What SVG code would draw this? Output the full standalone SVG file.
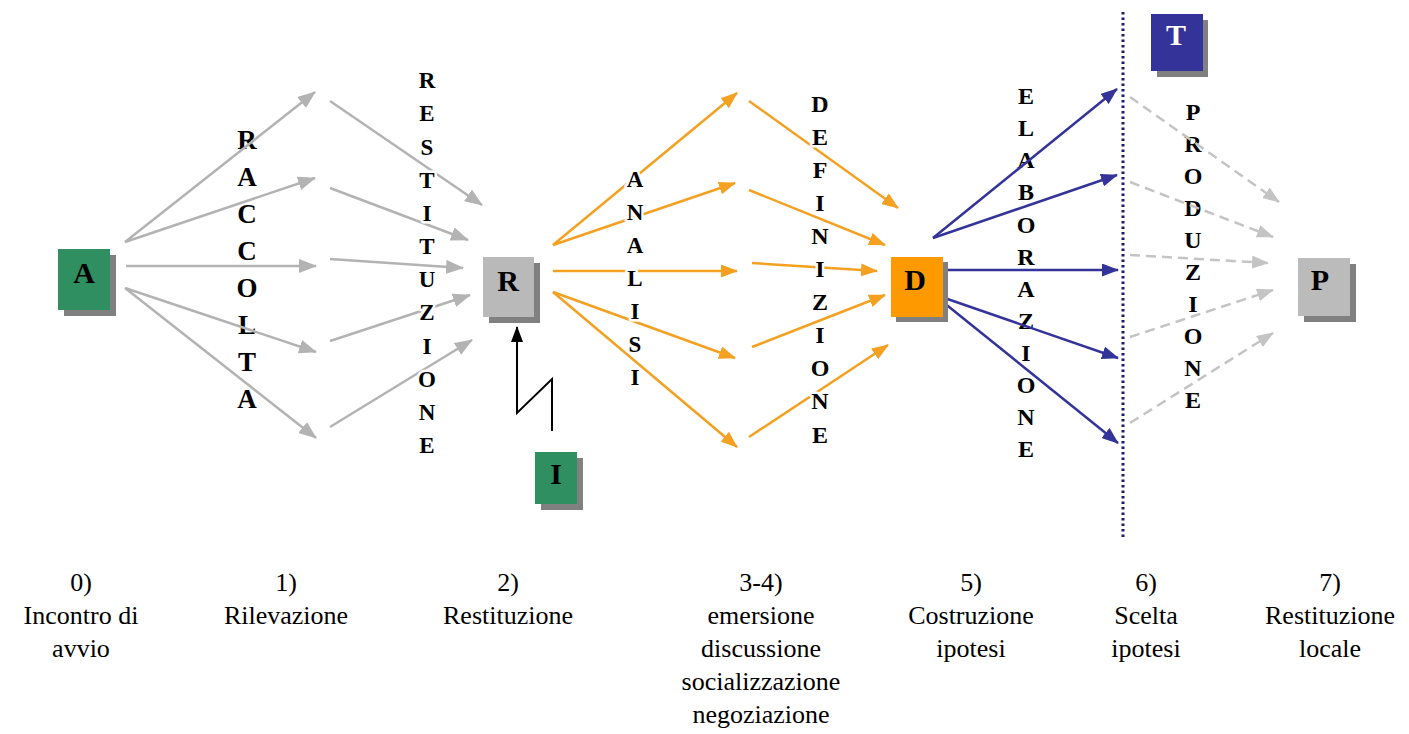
<svg xmlns="http://www.w3.org/2000/svg" width="1409" height="734" viewBox="0 0 1409 734">
<style>
.bg{fill:#ffffff}
.sh{fill:#808080}
.nl{font-family:"Liberation Serif",serif;font-weight:bold;font-size:30px;text-anchor:middle;fill:#000}
.vt{font-family:"Liberation Serif",serif;font-weight:bold;font-size:24px;text-anchor:middle;fill:#000}
.halo{stroke:#fff;stroke-width:5px;paint-order:stroke;stroke-linejoin:round}
.lb text{font-family:"Liberation Serif","DejaVu Serif",serif;font-size:26px;text-anchor:middle;fill:#000}
.cg{stroke:#b3b3b3;stroke-width:2.5;fill:none}
.co{stroke:#f4a020;stroke-width:2.5;fill:none}
.cb{stroke:#333399;stroke-width:2.5;fill:none}
.cd{stroke:#c4c4c4;stroke-width:2.5;fill:none;stroke-dasharray:10 6}
.ck{stroke:#000;stroke-width:2;fill:none}
</style>
<defs>
<marker id="mg" markerUnits="userSpaceOnUse" markerWidth="18" markerHeight="14" refX="17" refY="7" orient="auto"><path d="M0,0 L18,7 L0,14 z" fill="#b3b3b3"/></marker>
<marker id="mo" markerUnits="userSpaceOnUse" markerWidth="17" markerHeight="13" refX="16" refY="6.5" orient="auto"><path d="M0,0 L17,6.5 L0,13 z" fill="#f4a020"/></marker>
<marker id="mb" markerUnits="userSpaceOnUse" markerWidth="17" markerHeight="13" refX="16" refY="6.5" orient="auto"><path d="M0,0 L17,6.5 L0,13 z" fill="#333399"/></marker>
<marker id="md" markerUnits="userSpaceOnUse" markerWidth="17" markerHeight="13" refX="16" refY="6.5" orient="auto"><path d="M0,0 L17,6.5 L0,13 z" fill="#c4c4c4"/></marker>
<marker id="mk" markerUnits="userSpaceOnUse" markerWidth="16" markerHeight="12" refX="15" refY="6" orient="auto"><path d="M0,0 L16,6 L0,12 z" fill="#000"/></marker>
</defs>
<rect class="bg" x="0" y="0" width="1409" height="734"/>

<g id="label-raccolta" class="vt" style="font-size:27px">
<text x="247" y="149">R</text><text x="247" y="186">A</text><text x="247" y="223">C</text><text x="247" y="260">C</text><text x="247" y="297">O</text><text x="247" y="334">L</text><text x="247" y="371">T</text><text x="247" y="408">A</text>
</g>
<g id="label-elaborazione" class="vt">
<text x="1026" y="104">E</text><text x="1026" y="136">L</text><text x="1026" y="168">A</text><text x="1026" y="200">B</text><text x="1026" y="233">O</text><text x="1026" y="265">R</text><text x="1026" y="297">A</text><text x="1026" y="329">Z</text><text x="1026" y="361">I</text><text x="1026" y="393">O</text><text x="1026" y="425">N</text><text x="1026" y="457">E</text>
</g>
<g id="label-produzione" class="vt">
<text x="1193" y="120">P</text><text x="1193" y="152">R</text><text x="1193" y="184">O</text><text x="1193" y="216">D</text><text x="1193" y="248">U</text><text x="1193" y="280">Z</text><text x="1193" y="312">I</text><text x="1193" y="344">O</text><text x="1193" y="376">N</text><text x="1193" y="408">E</text>
</g>

<line id="divider" x1="1123" y1="12" x2="1123" y2="540" stroke="#1a1a6e" stroke-width="3" stroke-dasharray="2.5 3"/>

<g id="connectors">
<path class="cg" marker-end="url(#mg)" d="M125,242 L315,92"/>
<path class="cg" marker-end="url(#mg)" d="M125,242 L315,178"/>
<path class="cg" marker-end="url(#mg)" d="M126,266 L316,266"/>
<path class="cg" marker-end="url(#mg)" d="M125,288 L316,352"/>
<path class="cg" marker-end="url(#mg)" d="M125,288 L316,438"/>
<path class="cg" marker-end="url(#mg)" d="M330,101 L482,205"/>
<path class="cg" marker-end="url(#mg)" d="M330,188 L468,240"/>
<path class="cg" marker-end="url(#mg)" d="M330,259 L463,268"/>
<path class="cg" marker-end="url(#mg)" d="M330,341 L470,295"/>
<path class="cg" marker-end="url(#mg)" d="M330,427 L472,340"/>
<path class="co" marker-end="url(#mo)" d="M553,245 L737,93"/>
<path class="co" marker-end="url(#mo)" d="M553,245 L735,183"/>
<path class="co" marker-end="url(#mo)" d="M553,271 L737,271"/>
<path class="co" marker-end="url(#mo)" d="M553,292 L735,358"/>
<path class="co" marker-end="url(#mo)" d="M553,292 L737,447"/>
<path class="co" marker-end="url(#mo)" d="M749,101 L898,208"/>
<path class="co" marker-end="url(#mo)" d="M749,190 L885,245"/>
<path class="co" marker-end="url(#mo)" d="M752,263 L877,271"/>
<path class="co" marker-end="url(#mo)" d="M752,347 L885,295"/>
<path class="co" marker-end="url(#mo)" d="M749,437 L888,345"/>
<path class="cb" marker-end="url(#mb)" d="M933,238 L1117,89"/>
<path class="cb" marker-end="url(#mb)" d="M933,238 L1117,175"/>
<path class="cb" marker-end="url(#mb)" d="M937,270 L1118,270"/>
<path class="cb" marker-end="url(#mb)" d="M933,294 L1118,358"/>
<path class="cb" marker-end="url(#mb)" d="M933,294 L1118,443"/>
<path class="cd" marker-end="url(#md)" d="M1130,97 L1279,202"/>
<path class="cd" marker-end="url(#md)" d="M1130,182 L1273,237"/>
<path class="cd" marker-end="url(#md)" d="M1130,255 L1268,263"/>
<path class="cd" marker-end="url(#md)" d="M1130,337 L1273,290"/>
<path class="cd" marker-end="url(#md)" d="M1130,423 L1273,333"/>
<path class="ck" marker-end="url(#mk)" d="M552,431 L552,379 L517,413 L517,327"/>
</g>

<g id="label-restituzione" class="vt halo" style="font-size:23px">
<text x="427" y="88">R</text><text x="427" y="121">E</text><text x="427" y="155">S</text><text x="427" y="188">T</text><text x="427" y="221">I</text><text x="427" y="254">T</text><text x="427" y="287">U</text><text x="427" y="320">Z</text><text x="427" y="354">I</text><text x="427" y="387">O</text><text x="427" y="420">N</text><text x="427" y="453">E</text>
</g>
<g id="label-analisi" class="vt halo" style="font-size:23px">
<text x="635" y="187">A</text><text x="635" y="220">N</text><text x="635" y="253">A</text><text x="635" y="286">L</text><text x="635" y="319">I</text><text x="635" y="352">S</text><text x="635" y="385">I</text>
</g>
<g id="label-definizione" class="vt halo">
<text x="820" y="112">D</text><text x="820" y="145">E</text><text x="820" y="178">F</text><text x="820" y="211">I</text><text x="820" y="244">N</text><text x="820" y="277">I</text><text x="820" y="310">Z</text><text x="820" y="343">I</text><text x="820" y="376">O</text><text x="820" y="409">N</text><text x="820" y="443">E</text>
</g>

<g id="node-A">
<rect class="sh" x="64" y="255" width="52" height="61"/>
<rect x="58" y="249" width="52" height="61" fill="#2f8f60"/>
<text class="nl" x="84" y="283">A</text>
</g>
<g id="node-R">
<rect class="sh" x="489" y="263" width="51" height="60"/>
<rect x="483" y="257" width="51" height="60" fill="#b9b9b9"/>
<text class="nl" x="508" y="291">R</text>
</g>
<g id="node-I">
<rect class="sh" x="541" y="458" width="42" height="52"/>
<rect x="535" y="452" width="42" height="52" fill="#2f8f60"/>
<text class="nl" x="556" y="484">I</text>
</g>
<g id="node-D">
<rect class="sh" x="896" y="262" width="52" height="60"/>
<rect x="891" y="257" width="52" height="60" fill="#ff9900"/>
<text class="nl" x="915" y="290">D</text>
</g>
<g id="node-T">
<rect class="sh" x="1157" y="20" width="51" height="57"/>
<rect x="1151" y="14" width="52" height="57" fill="#333399"/>
<text class="nl" x="1176" y="45" style="fill:#ffffff">T</text>
</g>
<g id="node-P">
<rect class="sh" x="1304" y="264" width="52" height="58"/>
<rect x="1298" y="258" width="52" height="58" fill="#bbbbbb"/>
<text class="nl" x="1320" y="290">P</text>
</g>

<g id="stage-labels" class="lb">
<text x="81" y="591">0)</text><text x="81" y="624">Incontro di</text><text x="81" y="657">avvio</text>
<text x="286" y="591">1)</text><text x="286" y="624">Rilevazione</text>
<text x="508" y="591">2)</text><text x="508" y="624">Restituzione</text>
<text x="761" y="591">3-4)</text><text x="761" y="624">emersione</text><text x="761" y="657">discussione</text><text x="761" y="690">socializzazione</text><text x="761" y="723">negoziazione</text>
<text x="971" y="591">5)</text><text x="971" y="624">Costruzione</text><text x="971" y="657">ipotesi</text>
<text x="1146" y="591">6)</text><text x="1146" y="624">Scelta</text><text x="1146" y="657">ipotesi</text>
<text x="1330" y="591">7)</text><text x="1330" y="624">Restituzione</text><text x="1330" y="657">locale</text>
</g>
</svg>
